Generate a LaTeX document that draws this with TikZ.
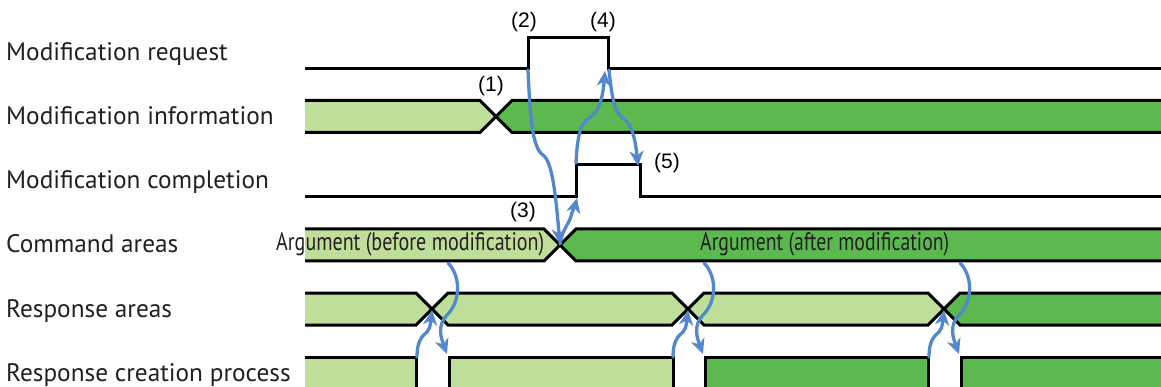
\documentclass[tikz,border=0pt]{standalone}
\usepackage{fontspec}
\setmainfont{PT Sans}
\newfontfamily\numfont{Liberation Sans}
\usetikzlibrary{arrows.meta}

\definecolor{oldgreen}{RGB}{190,222,153}
\definecolor{newgreen}{RGB}{91,185,80}
\definecolor{flowblue}{RGB}{84,136,204}
\definecolor{textgray}{RGB}{35,31,32}

\begin{document}
\begin{tikzpicture}[
  x=1pt,
  y=-1pt,
  >=Stealth,
  wave/.style={line width=3pt, black, line join=miter},
  oldval/.style={fill=oldgreen},
  newval/.style={fill=newgreen},
  flow/.style={line width=3.3pt, flowblue, line cap=round,
               -{Stealth[length=15pt,width=14pt,inset=4.5pt]}},
  rowlabel/.style={anchor=base west, inner sep=0pt, text=textgray,
                   font=\fontsize{25.3}{30}\selectfont},
  argtext/.style={anchor=base west, inner sep=0pt, text=textgray,
                  font=\fontsize{25.3}{30}\selectfont},
  marker/.style={inner sep=0pt, font=\numfont\fontsize{21}{24}\selectfont}
]

  \useasboundingbox (0,0) rectangle (1161,387);
  \clip (0,0) rectangle (1161,387);

  % Signal names.
  \node[rowlabel] (lblreq) at (6,61)  {Modification request};
  \node[rowlabel] (lblinf) at (6,125) {Modification information};
  \node[rowlabel] (lblcmp) at (6,189) {Modification completion};
  \node[rowlabel] (lblcmd) at (6,253) {Command areas};
  \node[rowlabel] (lblrsp) at (6,317) {Response areas};
  \node[rowlabel] (lblcrt) at (6,381) {Response creation process};

  % Value fills.
  \fill[oldval] (305,100.5) -- (480,100.5) -- (496,116.5) -- (480,132.5)
                -- (305,132.5) -- cycle;
  \fill[newval] (496,116.5) -- (512,100.5) -- (1161,100.5) -- (1161,132.5)
                -- (512,132.5) -- cycle;
  \fill[oldval] (305,229) -- (544,229) -- (560,245) -- (544,261)
                -- (305,261) -- cycle;
  \fill[newval] (560,245) -- (576,229) -- (1161,229) -- (1161,261)
                -- (576,261) -- cycle;
  \fill[oldval] (305,293) -- (416,293) -- (432,309) -- (416,325)
                -- (305,325) -- cycle;
  \fill[oldval] (432,309) -- (448,293) -- (672,293) -- (688,309)
                -- (672,325) -- (448,325) -- cycle;
  \fill[oldval] (688,309) -- (704,293) -- (928,293) -- (944,309)
                -- (928,325) -- (704,325) -- cycle;
  \fill[newval] (944,309) -- (960,293) -- (1161,293) -- (1161,325)
                -- (960,325) -- cycle;
  \fill[oldval] (305,357) rectangle (416,392);
  \fill[oldval] (449,357) rectangle (673,392);
  \fill[newval] (705,357) rectangle (928,392);
  \fill[newval] (961,357) rectangle (1161,392);

  % Waveforms.
  \draw[wave] (305,69) -- (528,69) -- (528,37.5) -- (608,37.5)
              -- (608,69) -- (1161,69);
  \draw[wave] (305,100.5) -- (480,100.5) -- (512,132.5) -- (1161,132.5);
  \draw[wave] (305,132.5) -- (480,132.5) -- (512,100.5) -- (1161,100.5);
  \draw[wave] (305,197) -- (576,197) -- (576,165) -- (640,165)
              -- (640,197) -- (1161,197);
  \draw[wave] (305,229) -- (544,229) -- (576,261) -- (1161,261);
  \draw[wave] (305,261) -- (544,261) -- (576,229) -- (1161,229);
  \draw[wave] (305,293) -- (416,293) -- (448,325) -- (672,325)
              -- (704,293) -- (928,293) -- (960,325) -- (1161,325);
  \draw[wave] (305,325) -- (416,325) -- (448,293) -- (672,293)
              -- (704,325) -- (928,325) -- (960,293) -- (1161,293);
  \draw[wave] (305,357) -- (416,357) -- (416,392);
  \draw[wave] (449,392) -- (449,357) -- (673,357) -- (673,392);
  \draw[wave] (705,392) -- (705,357) -- (928,357) -- (928,392);
  \draw[wave] (961,392) -- (961,357) -- (1161,357);

  % Bus values.
  \node[argtext] (argold) at (276,251)
    {\resizebox{268pt}{\height}{Argument (before modification)}};
  \node[argtext] (argnew) at (700,251)
    {\resizebox{249pt}{\height}{Argument (after modification)}};

  % Step numbers.
  \node[marker] (m1) at (491,86)  {(1)};
  \node[marker] (m2) at (524,22)  {(2)};
  \node[marker] (m3) at (523,212) {(3)};
  \node[marker] (m4) at (603,22)  {(4)};
  \node[marker] (m5) at (667,163) {(5)};

  % Event points.
  \coordinate (reqrise) at (528,70);
  \coordinate (reqfall) at (609,70);
  \coordinate (cmptop)  at (576,163);
  \coordinate (cmpbot)  at (577,198);
  \coordinate (cmpfall) at (638,166);
  \coordinate (cmdx)    at (560,244);

  % Handshake sequence.
  \draw[flow] (reqrise) .. controls (530,115) and (532,148) .. (543,155)
              .. controls (553,162) and (556,200) .. (cmdx);
  \draw[flow] (cmdx) .. controls (562,230) and (569,224) .. (571,216)
              .. controls (573,209) and (575,206) .. (cmpbot);
  \draw[flow] (cmptop) .. controls (577,140) and (580,122) .. (589,118)
              .. controls (600,112) and (603,95) .. (605,71);
  \draw[flow] (reqfall) .. controls (612,100) and (615,113) .. (624,119)
              .. controls (633,125) and (636,145) .. (cmpfall);

  % Response hand-over at each change of the response areas.
  \foreach \x [count=\i] in {432,688,944} {
    \coordinate (rspx\i) at (\x,310);
    \coordinate (cmdout\i) at (\x+16,263);
    \coordinate (crtend\i) at (\x-15,357);
    \coordinate (crtbeg\i) at (\x+15,354);
    \draw[flow] (cmdout\i) .. controls (\x+28,275) and (\x+30,300)
                .. (\x+15,315) .. controls (\x+5,325) and (\x+9,338)
                .. (crtbeg\i);
    \draw[flow] (crtend\i) .. controls (\x-15,341) and (\x-10,336)
                .. (\x-5,332) .. controls (\x-1,328) and (\x-1,318)
                .. (rspx\i);
  }

\end{tikzpicture}
\end{document}
